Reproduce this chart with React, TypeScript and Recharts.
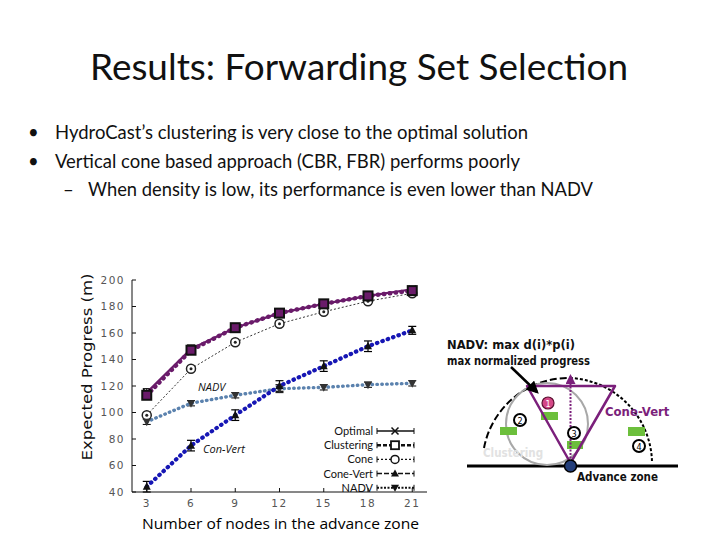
import React from 'react';
import { LineChart, Line, XAxis, YAxis, ErrorBar, Legend } from 'recharts';

const nodes = [3, 6, 9, 12, 15, 18, 21];
const optimal = [115, 148, 164, 175, 182, 188, 193];
const optimalErr = [3, 3, 2, 2, 2, 2, 2];
const clustering = [113, 147, 164, 175, 182, 188, 192];
const clusteringErr = [3, 2, 2, 2, 2, 2, 2];
const cone = [98, 133, 153, 167, 176, 184, 190];
const coneErr = [2, 2, 2, 2, 2, 2, 2];
const coneVert = [44, 75, 98, 120, 135, 150, 162];
const coneVertErr = [4, 4, 4, 4, 4, 4, 3];
const nadv = [93, 107, 113, 118, 119, 121, 122];
const nadvErr = [2, 2, 2, 3, 2, 2, 2];

const xTicks = [3, 6, 9, 12, 15, 18, 21];
const yTicks = [40, 60, 80, 100, 120, 140, 160, 180, 200];

const seriesNames = ['Optimal', 'Clustering', 'Cone', 'Cone-Vert', 'NADV'];

const data = nodes.map((n, i) => ({
  n,
  optimal: optimal[i],
  optimalErr: optimalErr[i],
  clustering: clustering[i],
  clusteringErr: clusteringErr[i],
  cone: cone[i],
  coneErr: coneErr[i],
  coneVert: coneVert[i],
  coneVertErr: coneVertErr[i],
  nadv: nadv[i],
  nadvErr: nadvErr[i],
}));

const PURPLE = '#6A1B6A';
const BLUE = '#1616B4';
const STEEL = '#5B82AE';

const EmptyTick = () => <g />;

const XDot = (p: any) => {
  const { cx, cy } = p;
  if (cx == null || cy == null) return <g />;
  const s = 3.5;
  return (
    <path
      d={`M${cx - s},${cy - s}L${cx + s},${cy + s}M${cx - s},${cy + s}L${cx + s},${cy - s}`}
      stroke="#000"
      strokeWidth={1.5}
      fill="none"
    />
  );
};
const SquareDot = (p: any) => {
  const { cx, cy } = p;
  if (cx == null || cy == null) return <g />;
  return <rect x={cx - 4.5} y={cy - 4.5} width={9} height={9} fill={PURPLE} stroke="#111" strokeWidth={2} />;
};
const CircleDot = (p: any) => {
  const { cx, cy } = p;
  if (cx == null || cy == null) return <g />;
  return (
    <g>
      <circle cx={cx} cy={cy} r={4.5} fill="#fff" stroke="#222" strokeWidth={1.5} />
      <circle cx={cx} cy={cy} r={1.5} fill="#222" />
    </g>
  );
};
const TriDot = (p: any) => {
  const { cx, cy } = p;
  if (cx == null || cy == null) return <g />;
  return <path d={`M${cx},${cy - 4.5}L${cx + 4},${cy + 3}L${cx - 4},${cy + 3}Z`} fill="#111" />;
};
const InvTriDot = (p: any) => {
  const { cx, cy } = p;
  if (cx == null || cy == null) return <g />;
  return <path d={`M${cx},${cy + 4.5}L${cx + 4},${cy - 3}L${cx - 4},${cy - 3}Z`} fill="#333" />;
};

const legendSamples = [
  { dash: undefined, w: 1.5, marker: 'x' },
  { dash: '4 2', w: 2.5, marker: 'sq' },
  { dash: '2 2', w: 1.2, marker: 'o' },
  { dash: '5 2', w: 1.5, marker: 'tri' },
  { dash: '2 1.5', w: 2, marker: 'inv' },
];

const LegendContent = () => (
  <svg width={130} height={72} style={{ overflow: 'visible' }}>
    {seriesNames.map((name, i) => {
      const y = 7 + i * 14.2;
      const s = legendSamples[i];
      const mx = 101;
      return (
        <g key={name}>
          <text x={79} y={y + 4} textAnchor="end" fontFamily="Lato, 'Open Sans', sans-serif" fontSize={11} fill="#111">
            {name}
          </text>
          <line x1={83} y1={y} x2={120} y2={y} stroke="#111" strokeWidth={s.w} strokeDasharray={s.dash} />
          <line x1={83} y1={y - 3} x2={83} y2={y + 3} stroke="#111" strokeWidth={1} />
          <line x1={120} y1={y - 3} x2={120} y2={y + 3} stroke="#111" strokeWidth={1} />
          {s.marker === 'x' && (
            <path d={`M${mx - 3.5},${y - 3.5}L${mx + 3.5},${y + 3.5}M${mx - 3.5},${y + 3.5}L${mx + 3.5},${y - 3.5}`} stroke="#111" strokeWidth={1.5} />
          )}
          {s.marker === 'sq' && <rect x={mx - 4} y={y - 4} width={8} height={8} fill="#fff" stroke="#111" strokeWidth={1.8} />}
          {s.marker === 'o' && (
            <g>
              <circle cx={mx} cy={y} r={4} fill="#fff" stroke="#111" strokeWidth={1.5} />
            </g>
          )}
          {s.marker === 'tri' && <path d={`M${mx},${y - 4}L${mx + 4},${y + 3}L${mx - 4},${y + 3}Z`} fill="#111" />}
          {s.marker === 'inv' && <path d={`M${mx},${y + 4}L${mx + 4},${y - 3}L${mx - 4},${y - 3}Z`} fill="#111" />}
        </g>
      );
    })}
  </svg>
);

const slideFont = "Lato, 'Open Sans', 'Liberation Sans', sans-serif";

const Overlay = () => (
  <svg width={720} height={540} style={{ position: 'absolute', left: 0, top: 0 }}>
    <defs>
      <marker id="ahBlack" viewBox="0 0 10 10" refX="8" refY="5" markerWidth="5" markerHeight="5" orient="auto">
        <path d="M0,0L10,5L0,10Z" fill="#000" />
      </marker>
      <marker id="ahPurple" viewBox="0 0 10 10" refX="8" refY="5" markerWidth="5" markerHeight="5" orient="auto">
        <path d="M0,0L10,5L0,10Z" fill="#7B1F7B" />
      </marker>
    </defs>
    <text x={90} y={80} fontFamily={slideFont} fontSize={36} fill="#111" textLength={538} lengthAdjust="spacingAndGlyphs">
      Results: Forwarding Set Selection
    </text>
    <g fontFamily={slideFont} fontSize={18.5} fill="#111">
      <text x={28} y={139}>•</text>
      <text x={55} y={139} textLength={473} lengthAdjust="spacingAndGlyphs">
        HydroCast’s clustering is very close to the optimal solution
      </text>
      <text x={28} y={168}>•</text>
      <text x={55} y={168} textLength={465} lengthAdjust="spacingAndGlyphs">
        Vertical cone based approach (CBR, FBR) performs poorly
      </text>
      <text x={63} y={196}>–</text>
      <text x={88} y={196} textLength={505} lengthAdjust="spacingAndGlyphs">
        When density is low, its performance is even lower than NADV
      </text>
    </g>
    <text
      x={0}
      y={0}
      transform="translate(92,367) rotate(-90)"
      textAnchor="middle"
      fontFamily="'DejaVu Sans', sans-serif"
      fontSize={13.5}
      fill="#111"
      textLength={187}
      lengthAdjust="spacingAndGlyphs"
    >
      Expected Progress (m)
    </text>
    <text x={142} y={529} fontFamily="'Open Sans', sans-serif" fontSize={15} fill="#000" textLength={277} lengthAdjust="spacingAndGlyphs">
      Number of nodes in the advance zone
    </text>
    <text x={198} y={391} fontFamily="'Open Sans', sans-serif" fontStyle="italic" fontSize={11} fill="#111">
      NADV
    </text>
    <text x={203} y={453} fontFamily="'Open Sans', sans-serif" fontStyle="italic" fontSize={11} fill="#111">
      Con-Vert
    </text>

    {/* diagram */}
    <g fontFamily="'Liberation Sans Narrow', 'DejaVu Sans Condensed', 'Open Sans', sans-serif">
      <text x={447} y={349} fontSize={12} fontWeight="bold" fill="#111" textLength={128} lengthAdjust="spacingAndGlyphs">
        NADV: max d(i)*p(i)
      </text>
      <text x={447} y={365} fontSize={12} fontWeight="bold" fill="#111" textLength={143} lengthAdjust="spacingAndGlyphs">
        max normalized progress
      </text>
      <path d="M484,448 A86,86 0 0 1 570,378" fill="none" stroke="#000" strokeWidth={2} strokeDasharray="7 3" />
      <path d="M570,378 A86,86 0 0 1 652,462" fill="none" stroke="#000" strokeWidth={2} strokeDasharray="3 2" />
      <line x1={467} y1={466} x2={678} y2={466} stroke="#000" strokeWidth={3} />
      <circle cx={547} cy={424} r={41} fill="none" stroke="#A8A8A8" strokeWidth={2} />
      <text x={483} y={457} fontSize={11.5} fontWeight="bold" fill="#E2E2E2">
        Clustering
      </text>
      <rect x={541} y={412} width={17} height={8} fill="#6CBF3C" />
      <rect x={500} y={427} width={17} height={8} fill="#6CBF3C" />
      <rect x={567} y={441} width={16} height={8} fill="#6CBF3C" />
      <rect x={628} y={427} width={17} height={9} fill="#6CBF3C" />
      <path d="M527,386 L615,386 L570.5,463 Z" fill="none" stroke="#7B1F7B" strokeWidth={2.5} strokeLinejoin="round" />
      <line x1={570.5} y1={462} x2={570.5} y2={376} stroke="#7B1F7B" strokeWidth={2} strokeDasharray="2 1.5" markerEnd="url(#ahPurple)" />
      <line x1={511} y1={367} x2={537} y2={392} stroke="#000" strokeWidth={2.5} markerEnd="url(#ahBlack)" />
      <circle cx={548} cy={403} r={6} fill="#D44787" stroke="#5A1030" strokeWidth={1.2} />
      <text x={548} y={407} fontSize={9} textAnchor="middle" fill="#fff">1</text>
      <circle cx={520} cy={420} r={6} fill="#fff" stroke="#000" strokeWidth={2} />
      <text x={520} y={424} fontSize={9} textAnchor="middle" fill="#000">2</text>
      <circle cx={574} cy={433} r={6} fill="#fff" stroke="#000" strokeWidth={2} />
      <text x={574} y={437} fontSize={9} textAnchor="middle" fill="#000">3</text>
      <circle cx={639} cy={446} r={6} fill="#fff" stroke="#000" strokeWidth={2} />
      <text x={639} y={450} fontSize={9} textAnchor="middle" fill="#000">4</text>
      <circle cx={570.5} cy={466} r={6} fill="#233E7A" stroke="#000" strokeWidth={1.5} />
      <text x={605} y={416} fontSize={13} fontWeight="bold" fill="#7B1F7B">
        Cone-Vert
      </text>
      <text x={577} y={481} fontSize={12} fontWeight="bold" fill="#111" textLength={81} lengthAdjust="spacingAndGlyphs">
        Advance zone
      </text>
    </g>
  </svg>
);

const tickStyle = { fontFamily: "'DejaVu Sans', sans-serif", fontSize: 10.5, fill: '#555', letterSpacing: 1.5 };

export default function App() {
  return (
    <div style={{ position: 'absolute', left: 0, top: 0, width: 720, height: 540, background: '#fff', overflow: 'hidden' }}>
      <Overlay />
      <div style={{ position: 'absolute', left: 0, top: 0 }}>
        <LineChart width={720} height={540} data={data} margin={{ top: 280, right: 293, bottom: 18, left: 72 }}>
          <XAxis
            dataKey="n"
            type="number"
            domain={[2, 22]}
            ticks={xTicks}
            height={30}
            tickSize={-4}
            tickMargin={12}
            tick={tickStyle}
            axisLine={{ stroke: '#111' }}
            tickLine={{ stroke: '#111' }}
            allowDataOverflow
          />
          <XAxis
            xAxisId="top"
            orientation="top"
            dataKey="n"
            type="number"
            domain={[2, 22]}
            ticks={xTicks}
            height={0}
            tickSize={-4}
            tick={EmptyTick}
            axisLine={{ stroke: '#111' }}
            tickLine={{ stroke: '#111' }}
          />
          <YAxis
            type="number"
            domain={[40, 200]}
            ticks={yTicks}
            width={60}
            tickSize={-4}
            tickMargin={11}
            tick={tickStyle}
            axisLine={{ stroke: '#111' }}
            tickLine={{ stroke: '#111' }}
          />
          <YAxis
            yAxisId="right"
            orientation="right"
            type="number"
            domain={[40, 200]}
            ticks={yTicks}
            width={0}
            tickSize={-4}
            tick={EmptyTick}
            axisLine={{ stroke: '#111' }}
            tickLine={{ stroke: '#111' }}
          />
          <Line dataKey="cone" name="Cone" stroke="#333" strokeWidth={1} strokeDasharray="2 2" dot={CircleDot} isAnimationActive={false}>
            <ErrorBar dataKey="coneErr" width={4} stroke="#000" strokeWidth={1} direction="y" isAnimationActive={false} />
          </Line>
          <Line dataKey="nadv" name="NADV" stroke={STEEL} strokeWidth={3.4} strokeDasharray="0.5 4.4" strokeLinecap="round" dot={InvTriDot} isAnimationActive={false}>
            <ErrorBar dataKey="nadvErr" width={4} stroke="#000" strokeWidth={1} direction="y" isAnimationActive={false} />
          </Line>
          <Line dataKey="coneVert" name="Cone-Vert" stroke={BLUE} strokeWidth={4.2} strokeDasharray="0.5 5.2" strokeLinecap="round" dot={TriDot} isAnimationActive={false}>
            <ErrorBar dataKey="coneVertErr" width={4} stroke="#000" strokeWidth={1.2} direction="y" isAnimationActive={false} />
          </Line>
          <Line dataKey="optimal" name="Optimal" stroke={PURPLE} strokeWidth={2.2} dot={XDot} isAnimationActive={false}>
            <ErrorBar dataKey="optimalErr" width={4} stroke="#000" strokeWidth={1} direction="y" isAnimationActive={false} />
          </Line>
          <Line dataKey="clustering" name="Clustering" stroke={PURPLE} strokeWidth={4.4} strokeDasharray="0.5 5.4" strokeLinecap="round" dot={SquareDot} isAnimationActive={false}>
            <ErrorBar dataKey="clusteringErr" width={4} stroke="#000" strokeWidth={1} direction="y" isAnimationActive={false} />
          </Line>
          <Legend
            layout="vertical"
            align="center"
            verticalAlign="middle"
            content={LegendContent}
            wrapperStyle={{ left: 294, top: 424, width: 130, height: 72 }}
          />
        </LineChart>
      </div>
    </div>
  );
}
